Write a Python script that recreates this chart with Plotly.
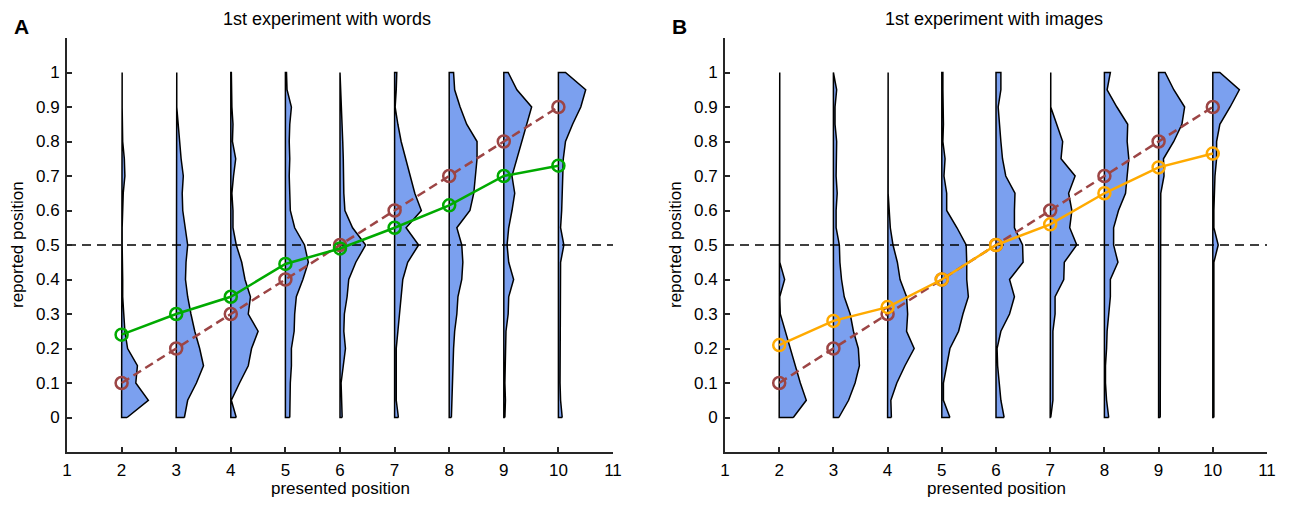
import plotly.graph_objects as go

# ---------------- data ----------------
positions = [2, 3, 4, 5, 6, 7, 8, 9, 10]
y_levels = [i / 20 for i in range(21)]  # 0, 0.05, ..., 1.0

ideal = [0.1, 0.2, 0.3, 0.4, 0.5, 0.6, 0.7, 0.8, 0.9]
words_mean = [0.24, 0.30, 0.35, 0.445, 0.49, 0.55, 0.615, 0.70, 0.73]
images_mean = [0.21, 0.28, 0.32, 0.40, 0.50, 0.56, 0.65, 0.725, 0.765]

# half-violin widths (x units) at each y level, per presented position
words_density = [
    [0.10, 0.49, 0.26, 0.29, 0.11, 0.06, 0.04, 0.02, 0.02, 0.01, 0.01, 0.01, 0.02, 0.03, 0.06, 0.05, 0.02, 0.01, 0.01, 0.01, 0.01],
    [0.15, 0.21, 0.37, 0.50, 0.43, 0.34, 0.27, 0.21, 0.17, 0.18, 0.21, 0.17, 0.12, 0.11, 0.13, 0.09, 0.06, 0.04, 0.01, 0.01, 0.01],
    [0.10, 0.01, 0.16, 0.32, 0.38, 0.50, 0.32, 0.36, 0.26, 0.20, 0.10, 0.04, 0.04, 0.02, 0.05, 0.09, 0.03, 0.04, 0.02, 0.02, 0.01],
    [0.08, 0.08, 0.09, 0.11, 0.11, 0.16, 0.17, 0.20, 0.32, 0.42, 0.35, 0.17, 0.09, 0.08, 0.07, 0.08, 0.07, 0.08, 0.11, 0.03, 0.02],
    [0.04, 0.03, 0.02, 0.06, 0.10, 0.07, 0.08, 0.13, 0.16, 0.29, 0.47, 0.23, 0.09, 0.07, 0.07, 0.06, 0.05, 0.04, 0.02, 0.01, 0.01],
    [0.07, 0.03, 0.03, 0.03, 0.03, 0.06, 0.09, 0.12, 0.15, 0.24, 0.44, 0.21, 0.49, 0.37, 0.29, 0.20, 0.12, 0.06, 0.01, 0.03, 0.04],
    [0.04, 0.05, 0.05, 0.06, 0.08, 0.10, 0.14, 0.16, 0.23, 0.25, 0.23, 0.14, 0.38, 0.45, 0.48, 0.51, 0.51, 0.32, 0.20, 0.10, 0.08],
    [0.02, 0.03, 0.02, 0.03, 0.04, 0.04, 0.08, 0.09, 0.18, 0.09, 0.06, 0.09, 0.15, 0.20, 0.15, 0.24, 0.34, 0.43, 0.51, 0.24, 0.08],
    [0.07, 0.04, 0.03, 0.03, 0.04, 0.03, 0.03, 0.03, 0.03, 0.04, 0.10, 0.04, 0.06, 0.07, 0.09, 0.09, 0.13, 0.26, 0.41, 0.50, 0.13],
]
images_density = [
    [0.26, 0.50, 0.39, 0.30, 0.20, 0.11, 0.02, 0.01, 0.10, 0.01, 0.01, 0.01, 0.01, 0.01, 0.01, 0.01, 0.01, 0.01, 0.01, 0.01, 0.01],
    [0.10, 0.28, 0.40, 0.48, 0.46, 0.37, 0.31, 0.20, 0.15, 0.12, 0.11, 0.05, 0.05, 0.07, 0.05, 0.06, 0.06, 0.03, 0.03, 0.06, 0.01],
    [0.07, 0.06, 0.17, 0.32, 0.49, 0.35, 0.37, 0.35, 0.23, 0.18, 0.10, 0.05, 0.03, 0.01, 0.01, 0.01, 0.01, 0.01, 0.01, 0.01, 0.01],
    [0.15, 0.03, 0.03, 0.09, 0.15, 0.31, 0.39, 0.49, 0.46, 0.46, 0.45, 0.28, 0.09, 0.09, 0.04, 0.06, 0.02, 0.03, 0.02, 0.02, 0.02],
    [0.15, 0.09, 0.06, 0.03, 0.02, 0.09, 0.25, 0.34, 0.25, 0.50, 0.49, 0.34, 0.34, 0.35, 0.18, 0.12, 0.09, 0.06, 0.04, 0.09, 0.09],
    [0.01, 0.05, 0.05, 0.05, 0.05, 0.05, 0.09, 0.09, 0.25, 0.26, 0.49, 0.36, 0.40, 0.34, 0.46, 0.20, 0.23, 0.12, 0.01, 0.01, 0.01],
    [0.08, 0.04, 0.02, 0.02, 0.04, 0.05, 0.08, 0.11, 0.11, 0.25, 0.17, 0.17, 0.26, 0.39, 0.42, 0.45, 0.42, 0.43, 0.23, 0.05, 0.11],
    [0.03, 0.03, 0.03, 0.03, 0.03, 0.03, 0.03, 0.03, 0.03, 0.03, 0.03, 0.04, 0.04, 0.04, 0.10, 0.09, 0.28, 0.43, 0.48, 0.28, 0.12],
    [0.02, 0.02, 0.02, 0.02, 0.02, 0.02, 0.02, 0.02, 0.02, 0.02, 0.10, 0.02, 0.02, 0.03, 0.04, 0.07, 0.07, 0.13, 0.32, 0.49, 0.13],
]

x_ticks = list(range(1, 12))
y_ticks = [i / 10 for i in range(11)]
y_tick_labels = ["0"] + [f"{v:.1f}" for v in y_ticks[1:-1]] + ["1"]

titles = ["1st experiment with words", "1st experiment with images"]
panel_letters = ["A", "B"]
x_label = "presented position"
y_label = "reported position"

# ---------------- style / layout ----------------
FONT = "Liberation Sans, Arial, sans-serif"
VIOLIN_FILL = "#7ba0ef"
IDEAL_COLOR = "#9c4545"
LINE_COLORS = ["#00aa00", "#ffaa00"]
AXIS_COLOR = "#262626"

OFF = 8            # page body margin
W, H = 1289 - 2 * OFF, 508 - 2 * OFF


def px(xp):
    return (xp - OFF) / W


def py(yp):
    return 1 - (yp - OFF) / H


fig = go.Figure()

panels = [
    ("x", "y", words_density, words_mean),
    ("x2", "y2", images_density, images_mean),
]

for p, (xa, ya, dens, means) in enumerate(panels):
    for pos, w in zip(positions, dens):
        xs = [pos + wi for wi in w] + [pos, pos, pos + w[0]]
        ys = list(y_levels) + [y_levels[-1], y_levels[0], y_levels[0]]
        fig.add_trace(go.Scatter(
            x=xs, y=ys, mode="lines", fill="toself", fillcolor=VIOLIN_FILL,
            line=dict(color="black", width=1.5), xaxis=xa, yaxis=ya,
            showlegend=False, hoverinfo="skip",
        ))
    fig.add_trace(go.Scatter(
        x=[x_ticks[0], x_ticks[-1]], y=[0.5, 0.5], mode="lines",
        line=dict(color="black", width=1.5, dash="9px,6px"),
        xaxis=xa, yaxis=ya, showlegend=False, hoverinfo="skip",
    ))
    fig.add_trace(go.Scatter(
        x=positions, y=ideal, mode="lines+markers",
        line=dict(color=IDEAL_COLOR, width=2.5, dash="9px,5px"),
        marker=dict(symbol="circle-open", size=12, color=IDEAL_COLOR,
                    line=dict(width=2.5, color=IDEAL_COLOR)),
        xaxis=xa, yaxis=ya, showlegend=False,
    ))
    fig.add_trace(go.Scatter(
        x=positions, y=means, mode="lines+markers",
        line=dict(color=LINE_COLORS[p], width=2.5),
        marker=dict(symbol="circle-open", size=12, color=LINE_COLORS[p],
                    line=dict(width=2.5, color=LINE_COLORS[p])),
        xaxis=xa, yaxis=ya, showlegend=False,
    ))

axis_common = dict(
    showline=True, linecolor=AXIS_COLOR, linewidth=2, mirror=False,
    ticks="inside", ticklen=5, tickwidth=1.5, tickcolor=AXIS_COLOR,
    showgrid=False, zeroline=False, automargin=False,
    tickfont=dict(family=FONT, size=17, color="black"),
)

axis_px = [(67, 613), (725, 1267)]
x_domains = [[px(a), px(b)] for a, b in axis_px]
y_domain = [py(452), py(38)]
title_cx = [327, 994]
letter_x = [12, 670]

layout = dict(
    width=W, height=H,
    margin=dict(l=0, r=0, t=0, b=0, autoexpand=False),
    paper_bgcolor="white", plot_bgcolor="white",
    font=dict(family=FONT, size=17, color="black"),
    annotations=[],
)

for p in range(2):
    xk = "xaxis" if p == 0 else "xaxis2"
    yk = "yaxis" if p == 0 else "yaxis2"
    layout[xk] = dict(
        axis_common, domain=x_domains[p], range=[1, 11],
        tickvals=x_ticks, ticktext=[str(v) for v in x_ticks],
        anchor="y" if p == 0 else "y2", ticklabelstandoff=2,
    )
    layout[yk] = dict(
        axis_common, domain=y_domain, range=[-0.1, 1.1],
        tickvals=y_ticks, ticktext=y_tick_labels,
        anchor="x" if p == 0 else "x2", ticklabelstandoff=2,
    )
    a, b = axis_px[p]
    layout["annotations"].append(dict(
        text=titles[p], x=px(title_cx[p]), y=py(18.5), xref="paper", yref="paper",
        showarrow=False, font=dict(family=FONT, size=18, color="black"),
        xanchor="center", yanchor="middle",
    ))
    layout["annotations"].append(dict(
        text=f"<b>{panel_letters[p]}</b>", x=px(letter_x[p]), y=py(26),
        xref="paper", yref="paper", showarrow=False,
        font=dict(family=FONT, size=21, color="black"),
        xanchor="left", yanchor="middle",
    ))
    layout["annotations"].append(dict(
        text=x_label, x=px((a + b) / 2), y=py(500), xref="paper", yref="paper",
        showarrow=False, font=dict(family=FONT, size=17, color="black"),
        xanchor="center", yanchor="bottom",
    ))
    layout["annotations"].append(dict(
        text=y_label, x=px(a - 50), y=py(245), xref="paper", yref="paper",
        showarrow=False, textangle=-90, font=dict(family=FONT, size=17, color="black"),
        xanchor="center", yanchor="middle",
    ))

fig.update_layout(**layout)
fig.write_html("out.html")
